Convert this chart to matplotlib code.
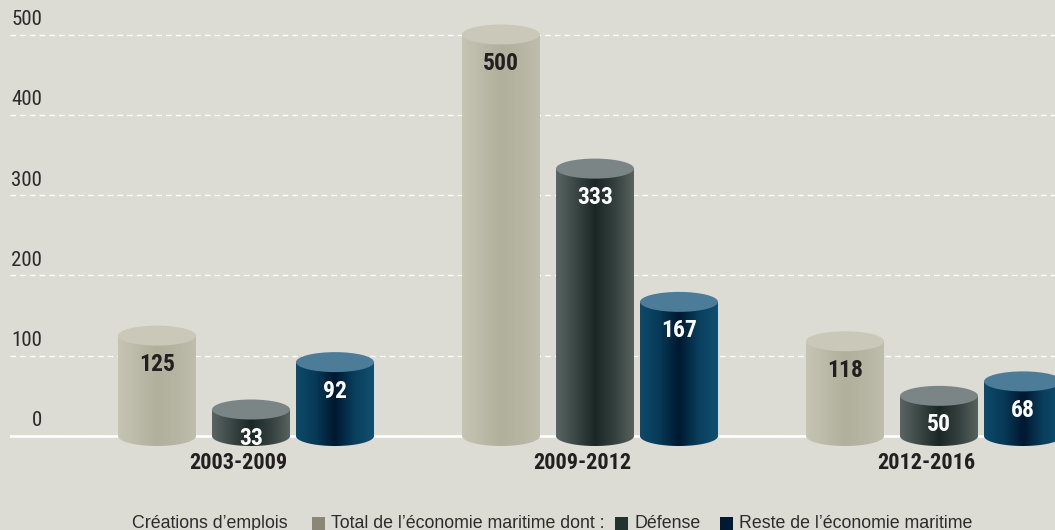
import os
import numpy as np
import matplotlib
matplotlib.use("Agg")
import matplotlib.pyplot as plt
from matplotlib import font_manager
from matplotlib.font_manager import FontProperties
from matplotlib.colors import LinearSegmentedColormap
from matplotlib.patches import PathPatch, Ellipse, Rectangle
from matplotlib.path import Path

# ---------------- data ----------------
categories = ["2003-2009", "2009-2012", "2012-2016"]
series_names = ["Total de l’économie maritime dont :", "Défense", "Reste de l’économie maritime"]
total_values = [125, 500, 118]
defense_values = [33, 333, 50]
reste_values = [92, 167, 68]
y_ticks = [0, 100, 200, 300, 400, 500]
legend_title = "Créations d’emplois"

# ---------------- fonts ----------------
all_files = set(font_manager.findSystemFonts()) | {f.fname for f in font_manager.fontManager.ttflist}
base = {os.path.basename(p).lower(): p for p in all_files}


def pick(cands):
    for c in cands:
        for b, p in base.items():
            if b.replace("_", "").replace(" ", "") == c:
                return p
    return None


bold_file = pick(["liberationsansnarrow-bold.ttf", "robotocondensed-bold.ttf",
                  "dejavusanscondensed-bold.ttf", "opensanscondensed-bold.ttf"])
reg_file = pick(["liberationsansnarrow-regular.ttf", "robotocondensed-regular.ttf",
                 "dejavusanscondensed.ttf", "opensanscondensed-light.ttf"])


def bold_fp(size):
    if bold_file:
        return FontProperties(fname=bold_file, size=size)
    return FontProperties(family=["Roboto", "DejaVu Sans"], weight="bold", size=size * 0.9)


def reg_fp(size):
    if reg_file:
        return FontProperties(fname=reg_file, size=size)
    return FontProperties(family=["Roboto", "DejaVu Sans"], size=size * 0.9)


available = {f.name for f in font_manager.fontManager.ttflist}
regular = "Liberation Sans" if "Liberation Sans" in available else "DejaVu Sans"

# ---------------- layout / style ----------------
W, H = 1055, 530
bg = "#dcdcd4"
px_per_unit = 0.803
base_px = 436
group_px0 = 251
group_step = 344
left_px = 10

bar_w = 78 / group_step
offsets = [-94 / group_step, 0.0, 84 / group_step]
ell_h = 20 / px_per_unit

side_colors = [
    ["#c6c5b5", "#bbbaa8", "#b1b09c", "#b6b5a2", "#bfbead"],
    ["#5a6563", "#3b4745", "#1a2724", "#33403d", "#58625f"],
    ["#0e4a6a", "#063a58", "#001830", "#0a3e5c", "#115070"],
]
top_colors = ["#c9c8b9", "#7b8586", "#4c7c97"]
legend_colors = ["#8a8874", "#22332f", "#001a33"]
label_colors = ["#231f20", "white", "white"]
text_color = "#2b2b2b"

fig = plt.figure(figsize=(W / 100, H / 100), dpi=100, facecolor=bg)
ax = fig.add_axes([left_px / W, 0, (W - left_px) / W, 1])
ax.set_facecolor(bg)

x_lo = (left_px - group_px0) / group_step
x_hi = (W - group_px0) / group_step
y_lo = -(H - base_px) / px_per_unit
y_hi = base_px / px_per_unit

series = [total_values, defense_values, reste_values]
for s, vals in enumerate(series):
    cmap = LinearSegmentedColormap.from_list(f"c{s}", side_colors[s])
    grad = cmap(np.linspace(0, 1, 256))[None, :, :]
    for i, v in enumerate(vals):
        cx = i + offsets[s]
        x0, x1 = cx - bar_w / 2, cx + bar_w / 2
        a, b = bar_w / 2, ell_h / 2
        t = np.linspace(np.pi, 2 * np.pi, 60)
        arc = np.column_stack([cx + a * np.cos(t), b * np.sin(t)])
        verts = np.vstack([[[x0, v]], arc, [[x1, v]], [[x0, v]]])
        codes = [Path.MOVETO] + [Path.LINETO] * (len(verts) - 2) + [Path.CLOSEPOLY]
        body = PathPatch(Path(verts, codes), facecolor="none", edgecolor="none",
                         transform=ax.transData, zorder=3)
        ax.add_patch(body)
        im = ax.imshow(grad, extent=[x0, x1, -b, v], aspect="auto",
                       interpolation="bicubic", zorder=3)
        im.set_clip_path(body)
        ax.add_patch(Ellipse((cx, v), bar_w, ell_h, facecolor=top_colors[s],
                             edgecolor="none", zorder=4))
        ax.annotate(f"{v}", (cx, v), xytext=(0, -29 * 0.72), textcoords="offset points",
                    ha="center", va="center", fontproperties=bold_fp(17),
                    color=label_colors[s], zorder=6)

ax.set_xlim(x_lo, x_hi)
ax.set_ylim(y_lo, y_hi)

# grid and baseline
ax.set_yticks(y_ticks)
ax.yaxis.grid(True, color="white", linestyle=(0, (4, 3)), linewidth=1.0)
ax.set_axisbelow(True)
ax.axhline(0, color="white", linewidth=1.8, zorder=2)
ax.tick_params(left=False, bottom=False, labelleft=False, labelbottom=False)
for sp in ax.spines.values():
    sp.set_visible(False)

# y tick labels (above the grid lines)
for yv in ax.get_yticks():
    ax.annotate(f"{int(yv)}", (32 / (W - left_px), yv), xycoords=("axes fraction", "data"),
                xytext=(0, 15 * 0.72), textcoords="offset points",
                ha="right", va="center", fontproperties=reg_fp(15), color=text_color)

# category labels
for i, c in enumerate(categories):
    ax.annotate(c, (i - 13 / group_step, 0), xytext=(0, -27 * 0.72), textcoords="offset points",
                ha="center", va="center", fontproperties=bold_fp(16), color="#231f20")

# legend (laid out left to right, baseline near the bottom edge)
renderer = fig.canvas.get_renderer()
baseline_y = (H - 528) / H
leg_fp = FontProperties(family=[regular, "DejaVu Sans"], size=12.8)


def put_text(x_px, s):
    t = fig.text(x_px / W, baseline_y, s, ha="left", va="baseline",
                 fontproperties=leg_fp, color=text_color)
    bb = t.get_window_extent(renderer=renderer)
    return bb.x1


x_cur = put_text(132, legend_title)
x_cur += 24
gaps = [11, 20, 0]
for k, name in enumerate(series_names):
    fig.patches.append(Rectangle((x_cur / W, 0 / H), 13 / W, 13 / H,
                                 transform=fig.transFigure, facecolor=legend_colors[k],
                                 edgecolor="none"))
    x_cur = put_text(x_cur + 19, name) + gaps[k]

fig.savefig("out.png", dpi=100, facecolor=bg)
